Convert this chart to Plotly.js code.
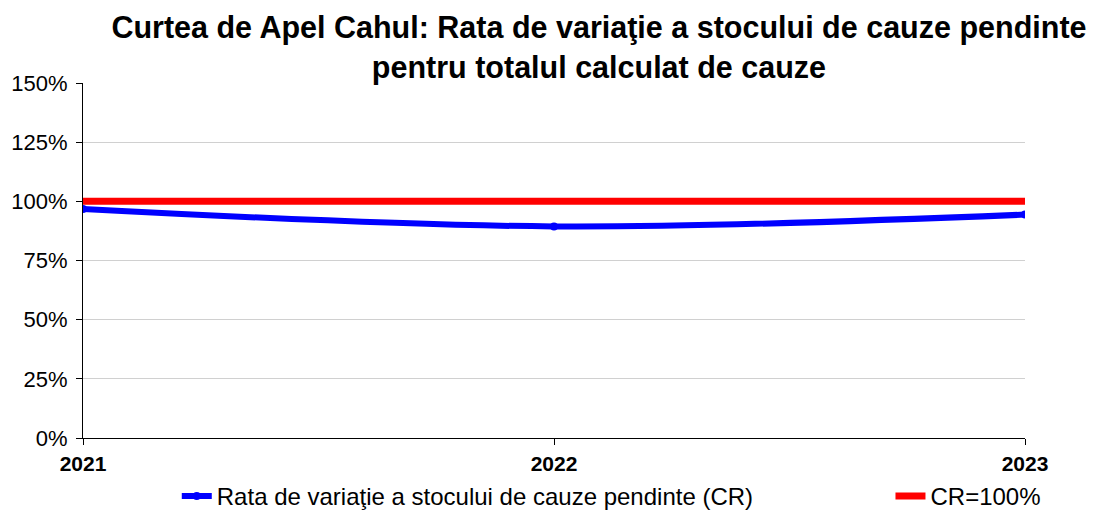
<!DOCTYPE html>
<html><head><meta charset="utf-8">
<script src="https://cdn.plot.ly/plotly-3.0.1.min.js"></script>
<style>html,body{margin:0;padding:0;background:#fff}#c{width:1098px;height:513px}</style>
</head><body><div id="c"></div>
<script>
const years = [2021, 2022, 2023];
const yearLabels = ['2021', '2022', '2023'];
const crValues = [0.968, 0.894, 0.944];
const targetValues = [1, 1, 1];
const seriesNames = ['Rata de variaţie a stocului de cauze pendinte (CR)', 'CR=100%'];
const yTicks = [0, 0.25, 0.5, 0.75, 1, 1.25, 1.5];

const font = 'Liberation Sans, Arial, sans-serif';
const traces = [
  {x: years, y: crValues, name: seriesNames[0], type: 'scatter', mode: 'lines+markers',
   line: {color: '#0000ff', width: 6, shape: 'spline'},
   marker: {color: '#0000ff', size: 8, symbol: 'circle'}, legend: 'legend'},
  {x: years, y: targetValues, name: seriesNames[1], type: 'scatter', mode: 'lines',
   line: {color: '#ff0000', width: 7}, legend: 'legend2'}
];
const legendCommon = {orientation: 'h', xref: 'container', yref: 'container', yanchor: 'top', y: 0.076,
  xanchor: 'left', font: {size: 24, family: font, color: '#000'}, bgcolor: 'rgba(0,0,0,0)'};
const layout = {
  width: 1098, height: 513,
  margin: {l: 83, r: 73, t: 83, b: 75},
  paper_bgcolor: '#fff', plot_bgcolor: '#fff',
  font: {family: font, color: '#000'},
  title: {text: '<b>Curtea de Apel Cahul: Rata de variaţie a stocului de cauze pendinte<br>pentru totalul calculat de cauze</b>',
          font: {family: font, size: 30.5, color: '#000'}, x: 0.5455, xanchor: 'center',
          xref: 'container', yref: 'container', y: 0.925, yanchor: 'top'},
  xaxis: {range: [2021, 2023], tickvals: years, ticktext: yearLabels.map(t => '<b>' + t + '</b>'),
          showgrid: false, zeroline: false, showline: true, linecolor: '#000', linewidth: 1,
          ticks: 'outside', ticklen: 6, tickcolor: '#000', tickfont: {size: 21, family: font},
          ticklabelstandoff: 1},
  yaxis: {range: [0, 1.5], tickvals: yTicks, tickformat: '.0%', showgrid: true, gridcolor: '#d0d0d0',
          zeroline: false, showline: true, linecolor: '#000', linewidth: 1,
          ticks: 'outside', ticklen: 6, tickcolor: '#000', tickfont: {size: 22, family: font},
          ticklabelstandoff: 4},
  showlegend: true,
  legend: Object.assign({}, legendCommon, {x: 0.161}),
  legend2: Object.assign({}, legendCommon, {x: 0.811})
};
Plotly.newPlot('c', traces, layout, {displayModeBar: false, staticPlot: true});
</script></body></html>
